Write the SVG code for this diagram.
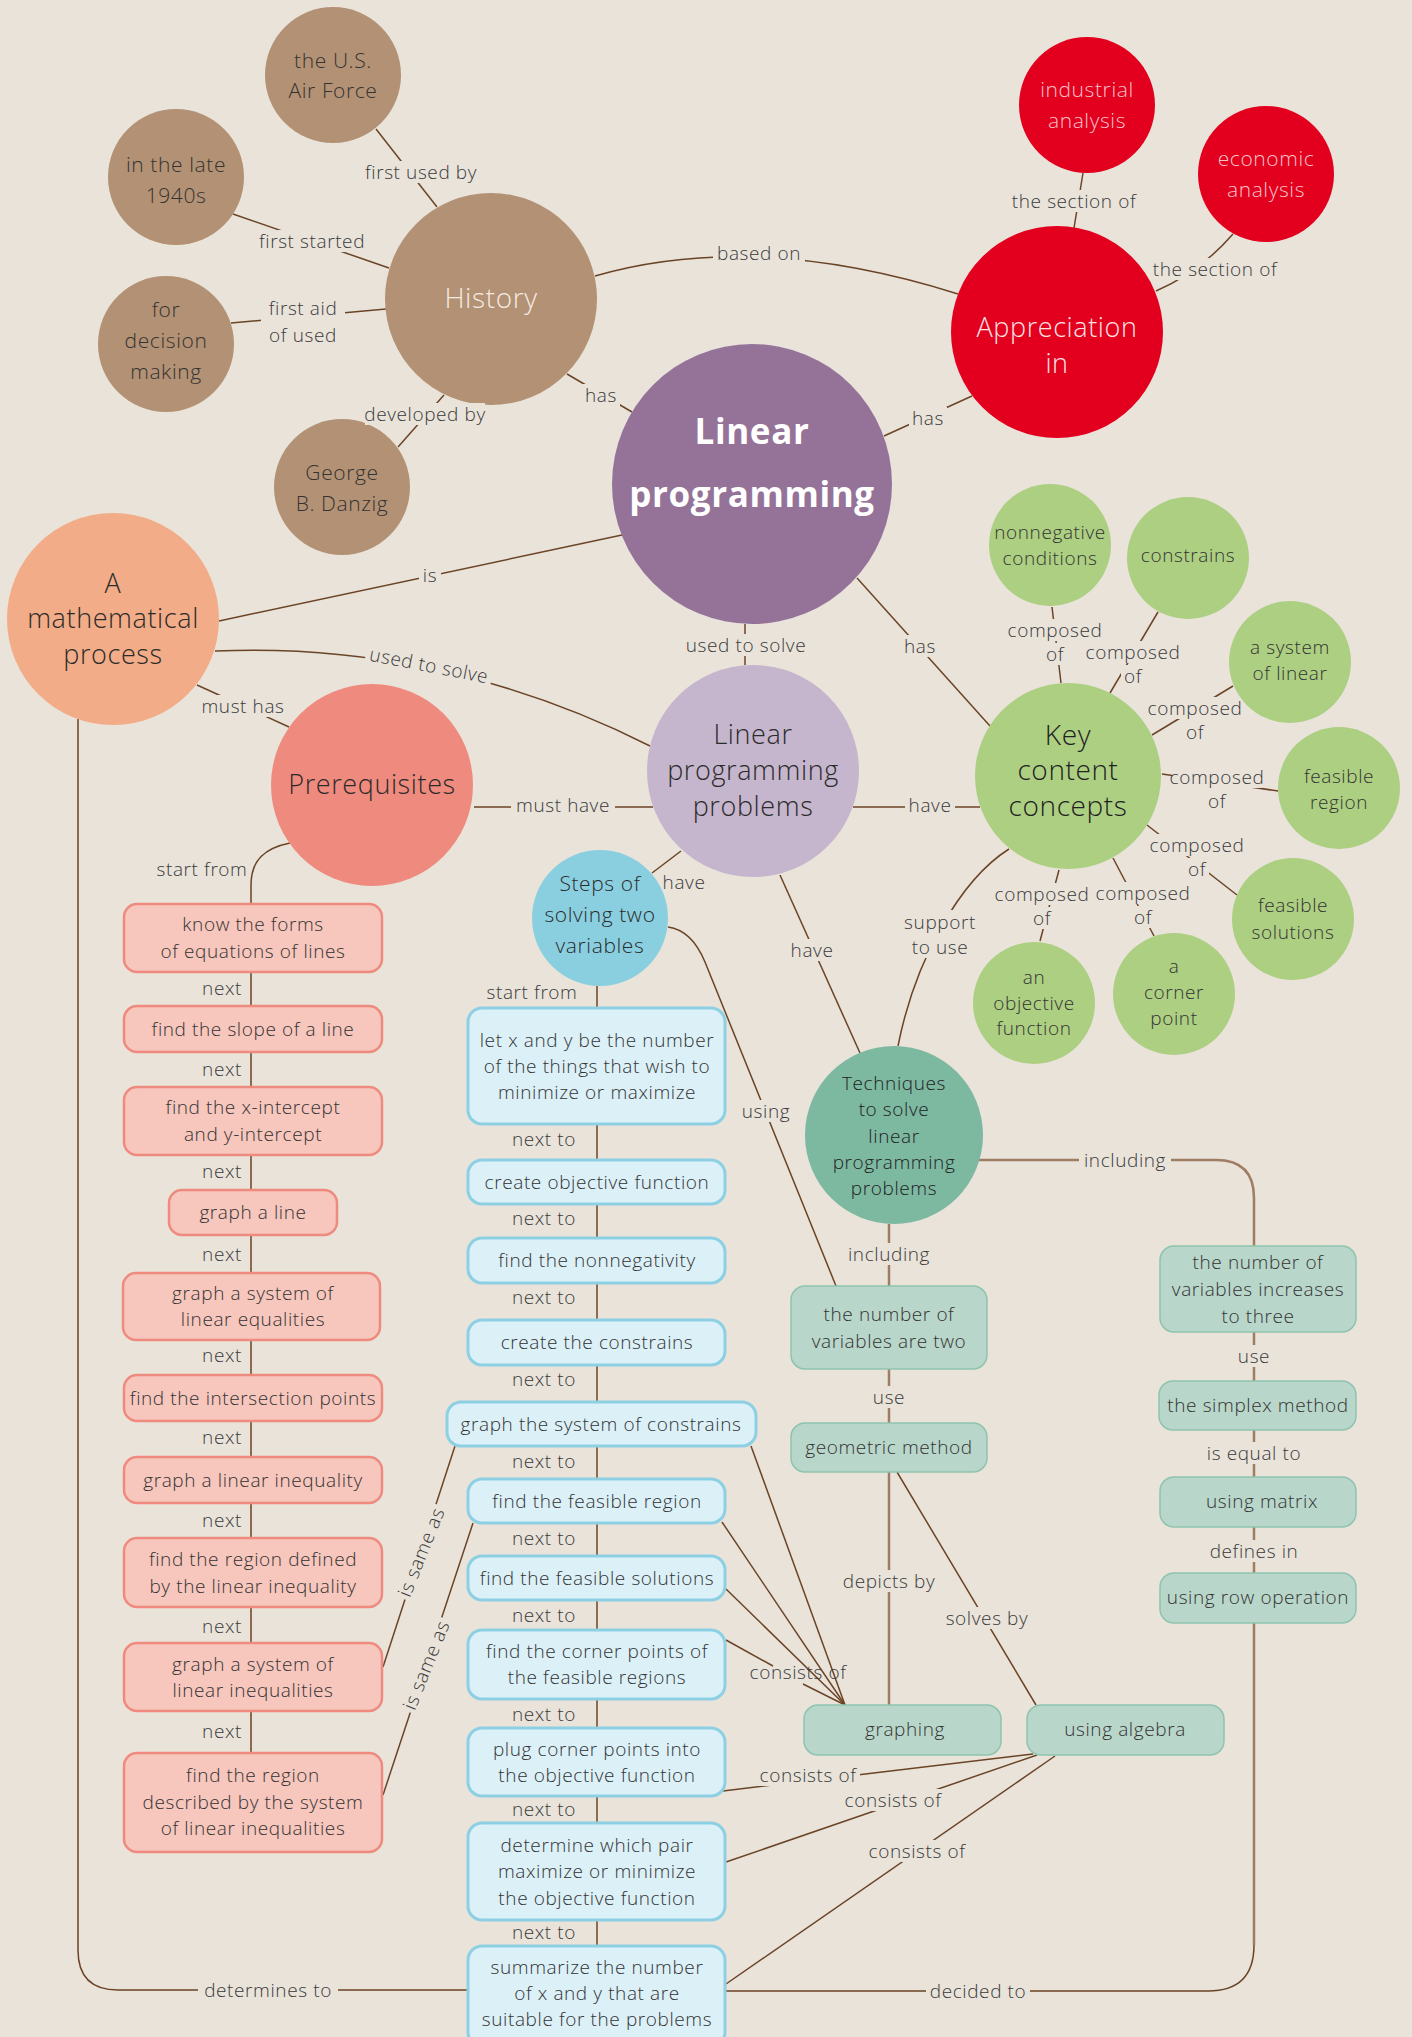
<svg xmlns="http://www.w3.org/2000/svg" width="1412" height="2037" viewBox="0 0 1412 2037">
<style>
text{font-family:"Open Sans","Liberation Sans",sans-serif;font-weight:300;text-anchor:middle;dominant-baseline:central;fill:#333;letter-spacing:0.6px}
.c{fill:none;stroke:#6b4426;stroke-width:1.5}
.c2{fill:none;stroke:#9e7d62;stroke-width:2.5}
.lb rect{fill:#e9e3da}
.lb text{font-size:19px;fill:#3a3a3a}
.brown{fill:#b39174}.red{fill:#e2001e}.purple{fill:#957399}.orange{fill:#f2ac87}.salmon{fill:#ef8a7e}.lav{fill:#c5b5cd}.sky{fill:#8acfe0}.green{fill:#adcf82}.teal{fill:#7db8a1}
.bp{fill:#f7c6bc;stroke:#ef8a7f;stroke-width:2.5}
.bb{fill:#dcf0f8;stroke:#8dd0e3;stroke-width:3}
.bt{fill:#b9d6ca;stroke:#8ec4ae;stroke-width:1.5}
.t19{font-size:19px}
.t21{font-size:21px}
.t27{font-size:27px}
</style>
<rect width="1412" height="2037" fill="#e9e3da"/>
<g id="connectors">
<path class="c" d="M376,129 L437,207"/>
<path class="c" d="M233,214 L389,268"/>
<path class="c" d="M231,323 L386,309"/>
<path class="c" d="M398,447 L444,395"/>
<path class="c" d="M567,374 L632,412"/>
<path class="c" d="M595,276 Q755,230 958,294"/>
<path class="c" d="M884,436 L972,396"/>
<path class="c" d="M1083,173 L1074,228"/>
<path class="c" d="M1233,234 Q1200,272 1156,291"/>
<path class="c" d="M219,621 L622,535"/>
<path class="c" d="M215,651 C350,645 500,670 650,746"/>
<path class="c" d="M197,685 L289,727"/>
<path class="c" d="M474,807 H653"/>
<path class="c" d="M853,807 H980"/>
<path class="c" d="M745,624 V665"/>
<path class="c" d="M857,578 L990,726"/>
<path class="c" d="M1052,607 L1061,683"/>
<path class="c" d="M1158,612 L1110,693"/>
<path class="c" d="M1233,686 L1152,735"/>
<path class="c" d="M1162,774 L1278,791"/>
<path class="c" d="M1147,825 L1237,895"/>
<path class="c" d="M1113,858 L1154,936"/>
<path class="c" d="M1059,870 L1040,941"/>
<path class="c" d="M681,851 L652,873"/>
<path class="c" d="M780,875 L860,1053"/>
<path class="c" d="M1009,849 C960,880 915,960 898,1046"/>
<path class="c" d="M668,927 C690,930 700,950 705,962 L836,1286"/>
<path class="c2" d="M889,1224 V1286"/>
<path class="c2" d="M979,1160 H1216 Q1254,1160 1254,1198 V1246"/>
<path class="c2" d="M889,1369 V1423"/>
<path class="c2" d="M889,1472 V1705"/>
<path class="c" d="M897,1472 L1036,1705"/>
<path class="c2" d="M1254,1332 V1381"/>
<path class="c2" d="M1254,1430 V1477"/>
<path class="c2" d="M1254,1527 V1573"/>
<path class="c2" d="M1254,1623 V1945"/>
<path class="c" d="M1254,1945 Q1254,1991 1208,1991 H725"/>
<path class="c" d="M290,843 C265,848 251,860 251,885 V1753"/>
<path class="c" d="M597,986 V1946"/>
<path class="c" d="M78,719 V1950 Q78,1990 118,1990 H468"/>
<path class="c" d="M383,1667 L455,1446"/>
<path class="c" d="M383,1795 L473,1523"/>
<path class="c" d="M751,1446 L845,1705"/>
<path class="c" d="M722,1522 L845,1705"/>
<path class="c" d="M726,1589 L845,1705"/>
<path class="c" d="M726,1640 L773,1666"/>
<path class="c" d="M803,1684 L845,1705"/>
<path class="c" d="M723,1791 L1033,1754"/>
<path class="c" d="M726,1862 L1037,1755"/>
<path class="c" d="M726,1984 L1055,1756"/>
</g>
<g id="n-history"><circle class="brown" cx="491" cy="299" r="106"/><text x="491" y="297" style="font-size:28px;fill:#f3eae1">History</text></g>
<g id="n-airforce"><circle class="brown" cx="333" cy="75" r="68"/><text class="t21" x="333" y="60">the U.S.</text><text class="t21" x="333" y="90">Air Force</text></g>
<g id="n-1940s"><circle class="brown" cx="176" cy="177" r="68"/><text class="t21" x="176" y="164">in the late</text><text class="t21" x="176" y="195">1940s</text></g>
<g id="n-decision"><circle class="brown" cx="166" cy="344" r="68"/><text class="t21" x="166" y="309">for</text><text class="t21" x="166" y="340">decision</text><text class="t21" x="166" y="371">making</text></g>
<g id="n-danzig"><circle class="brown" cx="342" cy="487" r="68"/><text class="t21" x="342" y="472">George</text><text class="t21" x="342" y="503">B. Danzig</text></g>
<g id="n-appreciation"><circle class="red" cx="1057" cy="332" r="106"/><text class="t27" x="1057" y="326" style="fill:#fbe3e5">Appreciation</text><text class="t27" x="1057" y="362" style="fill:#fbe3e5">in</text></g>
<g id="n-industrial"><circle class="red" cx="1087" cy="105" r="68"/><text class="t21" x="1087" y="89" style="fill:#f7c3c9">industrial</text><text class="t21" x="1087" y="120" style="fill:#f7c3c9">analysis</text></g>
<g id="n-economic"><circle class="red" cx="1266" cy="174" r="68"/><text class="t21" x="1266" y="158" style="fill:#f7c3c9">economic</text><text class="t21" x="1266" y="189" style="fill:#f7c3c9">analysis</text></g>
<g id="n-lp"><circle class="purple" cx="752" cy="484" r="140"/><text x="752" y="430" style="font-size:35px;font-weight:700;fill:#fff">Linear</text><text x="752" y="493" style="font-size:35px;font-weight:700;fill:#fff">programming</text></g>
<g id="n-math"><circle class="orange" cx="113" cy="619" r="106"/><text class="t27" x="113" y="582" style="fill:#2b2b2b">A</text><text class="t27" x="113" y="617" style="fill:#2b2b2b">mathematical</text><text class="t27" x="113" y="653" style="fill:#2b2b2b">process</text></g>
<g id="n-prereq"><circle class="salmon" cx="372" cy="785" r="101"/><text class="t27" x="372" y="783" style="fill:#2b2b2b">Prerequisites</text></g>
<g id="n-lpp"><circle class="lav" cx="753" cy="771" r="106"/><text class="t27" x="753" y="733" style="fill:#2b2b2b">Linear</text><text class="t27" x="753" y="769" style="fill:#2b2b2b">programming</text><text class="t27" x="753" y="805" style="fill:#2b2b2b">problems</text></g>
<g id="n-steps"><circle class="sky" cx="600" cy="918" r="68"/><text class="t21" x="600" y="883" style="fill:#2b2b2b">Steps of</text><text class="t21" x="600" y="914" style="fill:#2b2b2b">solving two</text><text class="t21" x="600" y="945" style="fill:#2b2b2b">variables</text></g>
<g id="n-key"><circle class="green" cx="1068" cy="776" r="93"/><text x="1068" y="734" style="font-size:28px;fill:#222">Key</text><text x="1068" y="769" style="font-size:28px;fill:#222">content</text><text x="1068" y="805" style="font-size:28px;fill:#222">concepts</text></g>
<g id="n-nonneg"><circle class="green" cx="1050" cy="545" r="61"/><text class="t19" x="1050" y="532">nonnegative</text><text class="t19" x="1050" y="558">conditions</text></g>
<g id="n-constrains"><circle class="green" cx="1188" cy="558" r="61"/><text class="t19" x="1188" y="555">constrains</text></g>
<g id="n-system"><circle class="green" cx="1290" cy="662" r="61"/><text class="t19" x="1290" y="647">a system</text><text class="t19" x="1290" y="673">of linear</text></g>
<g id="n-region"><circle class="green" cx="1339" cy="788" r="61"/><text class="t19" x="1339" y="776">feasible</text><text class="t19" x="1339" y="802">region</text></g>
<g id="n-solutions"><circle class="green" cx="1293" cy="919" r="61"/><text class="t19" x="1293" y="905">feasible</text><text class="t19" x="1293" y="932">solutions</text></g>
<g id="n-corner"><circle class="green" cx="1174" cy="994" r="61"/><text class="t19" x="1174" y="966">a</text><text class="t19" x="1174" y="992">corner</text><text class="t19" x="1174" y="1018">point</text></g>
<g id="n-objective"><circle class="green" cx="1034" cy="1003" r="61"/><text class="t19" x="1034" y="977">an</text><text class="t19" x="1034" y="1003">objective</text><text class="t19" x="1034" y="1028">function</text></g>
<g id="n-tech"><circle class="teal" cx="894" cy="1135" r="89"/><text class="t19" x="894" y="1083" style="fill:#222">Techniques</text><text class="t19" x="894" y="1109" style="fill:#222">to solve</text><text class="t19" x="894" y="1136" style="fill:#222">linear</text><text class="t19" x="894" y="1162" style="fill:#222">programming</text><text class="t19" x="894" y="1188" style="fill:#222">problems</text></g>
<g id="p1"><rect class="bp" x="124" y="904" width="258" height="68" rx="13"/><text class="t19" x="253" y="924">know the forms</text><text class="t19" x="253" y="951">of equations of lines</text></g>
<g id="p2"><rect class="bp" x="124" y="1006" width="258" height="46" rx="13"/><text class="t19" x="253" y="1029">find the slope of a line</text></g>
<g id="p3"><rect class="bp" x="124" y="1087" width="258" height="68" rx="13"/><text class="t19" x="253" y="1107">find the x-intercept</text><text class="t19" x="253" y="1134">and y-intercept</text></g>
<g id="p4"><rect class="bp" x="169" y="1190" width="168" height="45" rx="13"/><text class="t19" x="253" y="1212">graph a line</text></g>
<g id="p5"><rect class="bp" x="123" y="1273" width="257" height="67" rx="13"/><text class="t19" x="253" y="1293">graph a system of</text><text class="t19" x="253" y="1319">linear equalities</text></g>
<g id="p6"><rect class="bp" x="124" y="1375" width="258" height="46" rx="13"/><text class="t19" x="253" y="1398">find the intersection points</text></g>
<g id="p7"><rect class="bp" x="124" y="1457" width="258" height="46" rx="13"/><text class="t19" x="253" y="1480">graph a linear inequality</text></g>
<g id="p8"><rect class="bp" x="124" y="1538" width="258" height="69" rx="13"/><text class="t19" x="253" y="1559">find the region defined</text><text class="t19" x="253" y="1586">by the linear inequality</text></g>
<g id="p9"><rect class="bp" x="124" y="1643" width="258" height="68" rx="13"/><text class="t19" x="253" y="1664">graph a system of</text><text class="t19" x="253" y="1690">linear inequalities</text></g>
<g id="p10"><rect class="bp" x="124" y="1753" width="258" height="99" rx="13"/><text class="t19" x="253" y="1775">find the region</text><text class="t19" x="253" y="1802">described by the system</text><text class="t19" x="253" y="1828">of linear inequalities</text></g>
<g id="b1"><rect class="bb" x="468" y="1008" width="257" height="116" rx="14"/><text class="t19" x="597" y="1040">let x and y be the number</text><text class="t19" x="597" y="1066">of the things that wish to</text><text class="t19" x="597" y="1092">minimize or maximize</text></g>
<g id="b2"><rect class="bb" x="468" y="1160" width="257" height="44" rx="14"/><text class="t19" x="597" y="1182">create objective function</text></g>
<g id="b3"><rect class="bb" x="468" y="1238" width="257" height="45" rx="14"/><text class="t19" x="597" y="1260">find the nonnegativity</text></g>
<g id="b4"><rect class="bb" x="468" y="1320" width="257" height="45" rx="14"/><text class="t19" x="597" y="1342">create the constrains</text></g>
<g id="b5"><rect class="bb" x="447" y="1402" width="309" height="44" rx="14"/><text class="t19" x="601" y="1424">graph the system of constrains</text></g>
<g id="b6"><rect class="bb" x="468" y="1479" width="257" height="44" rx="14"/><text class="t19" x="597" y="1501">find the feasible region</text></g>
<g id="b7"><rect class="bb" x="468" y="1556" width="257" height="44" rx="14"/><text class="t19" x="597" y="1578">find the feasible solutions</text></g>
<g id="b8"><rect class="bb" x="468" y="1630" width="257" height="69" rx="14"/><text class="t19" x="597" y="1651">find the corner points of</text><text class="t19" x="597" y="1677">the feasible regions</text></g>
<g id="b9"><rect class="bb" x="468" y="1728" width="257" height="68" rx="14"/><text class="t19" x="597" y="1749">plug corner points into</text><text class="t19" x="597" y="1775">the objective function</text></g>
<g id="b10"><rect class="bb" x="468" y="1823" width="257" height="97" rx="14"/><text class="t19" x="597" y="1845">determine which pair</text><text class="t19" x="597" y="1871">maximize or minimize</text><text class="t19" x="597" y="1898">the objective function</text></g>
<g id="b11"><rect class="bb" x="468" y="1946" width="257" height="100" rx="14"/><text class="t19" x="597" y="1967">summarize the number</text><text class="t19" x="597" y="1993">of x and y that are</text><text class="t19" x="597" y="2019">suitable for the problems</text></g>
<g id="t1"><rect class="bt" x="791" y="1286" width="196" height="83" rx="14"/><text class="t19" x="889" y="1314">the number of</text><text class="t19" x="889" y="1341">variables are two</text></g>
<g id="t2"><rect class="bt" x="791" y="1423" width="196" height="49" rx="14"/><text class="t19" x="889" y="1447">geometric method</text></g>
<g id="t3"><rect class="bt" x="804" y="1705" width="197" height="50" rx="14"/><text class="t19" x="905" y="1729">graphing</text></g>
<g id="t4"><rect class="bt" x="1027" y="1705" width="197" height="50" rx="14"/><text class="t19" x="1125" y="1729">using algebra</text></g>
<g id="t5"><rect class="bt" x="1160" y="1246" width="196" height="86" rx="14"/><text class="t19" x="1258" y="1262">the number of</text><text class="t19" x="1258" y="1289">variables increases</text><text class="t19" x="1258" y="1316">to three</text></g>
<g id="t6"><rect class="bt" x="1159" y="1381" width="197" height="49" rx="14"/><text class="t19" x="1258" y="1405">the simplex method</text></g>
<g id="t7"><rect class="bt" x="1160" y="1477" width="196" height="50" rx="14"/><text class="t19" x="1262" y="1501">using matrix</text></g>
<g id="t8"><rect class="bt" x="1160" y="1573" width="196" height="50" rx="14"/><text class="t19" x="1258" y="1597">using row operation</text></g>
<g id="labels">
<g class="lb" transform="translate(421,172)"><rect x="-60" y="-11" width="120" height="22"/><text>first used by</text></g>
<g class="lb" transform="translate(312,241)"><rect x="-55" y="-11" width="110" height="22"/><text>first started</text></g>
<g class="lb" transform="translate(303,321)"><rect x="-42" y="-25" width="84" height="50"/><text y="-13">first aid</text><text y="14">of used</text></g>
<g class="lb" transform="translate(425,414)"><rect x="-60" y="-11" width="120" height="22"/><text>developed by</text></g>
<g class="lb" transform="translate(601,395)"><rect x="-19" y="-11" width="38" height="22"/><text>has</text></g>
<g class="lb" transform="translate(759,253)"><rect x="-46" y="-11" width="92" height="22"/><text>based on</text></g>
<g class="lb" transform="translate(928,418)"><rect x="-19" y="-11" width="38" height="22"/><text>has</text></g>
<g class="lb" transform="translate(1074,201)"><rect x="-65" y="-11" width="130" height="22"/><text>the section of</text></g>
<g class="lb" transform="translate(1215,269)"><rect x="-65" y="-11" width="130" height="22"/><text>the section of</text></g>
<g class="lb" transform="translate(430,575)"><rect x="-11" y="-11" width="22" height="22"/><text>is</text></g>
<g class="lb" transform="translate(429,665) rotate(11)"><rect x="-64" y="-11" width="128" height="22"/><text>used to solve</text></g>
<g class="lb" transform="translate(243,706)"><rect x="-46" y="-11" width="92" height="22"/><text>must has</text></g>
<g class="lb" transform="translate(563,805)"><rect x="-52" y="-11" width="104" height="22"/><text>must have</text></g>
<g class="lb" transform="translate(930,805)"><rect x="-25" y="-11" width="50" height="22"/><text>have</text></g>
<g class="lb" transform="translate(746,645)"><rect x="-64" y="-11" width="128" height="22"/><text>used to solve</text></g>
<g class="lb" transform="translate(920,646)"><rect x="-25" y="-11" width="50" height="22"/><text>has</text></g>
<g class="lb" transform="translate(1055,642)"><rect x="-45" y="-23" width="90" height="22"/><rect x="-12" y="1" width="24" height="22"/><text y="-12">composed</text><text y="12">of</text></g>
<g class="lb" transform="translate(1133,664)"><rect x="-45" y="-23" width="90" height="22"/><rect x="-12" y="1" width="24" height="22"/><text y="-12">composed</text><text y="12">of</text></g>
<g class="lb" transform="translate(1195,720)"><rect x="-45" y="-23" width="90" height="22"/><rect x="-12" y="1" width="24" height="22"/><text y="-12">composed</text><text y="12">of</text></g>
<g class="lb" transform="translate(1217,789)"><rect x="-45" y="-23" width="90" height="22"/><rect x="-12" y="1" width="24" height="22"/><text y="-12">composed</text><text y="12">of</text></g>
<g class="lb" transform="translate(1197,857)"><rect x="-45" y="-23" width="90" height="22"/><rect x="-12" y="1" width="24" height="22"/><text y="-12">composed</text><text y="12">of</text></g>
<g class="lb" transform="translate(1143,905)"><rect x="-45" y="-23" width="90" height="22"/><rect x="-12" y="1" width="24" height="22"/><text y="-12">composed</text><text y="12">of</text></g>
<g class="lb" transform="translate(1042,906)"><rect x="-45" y="-23" width="90" height="22"/><rect x="-12" y="1" width="24" height="22"/><text y="-12">composed</text><text y="12">of</text></g>
<g class="lb" transform="translate(684,882)"><text>have</text></g>
<g class="lb" transform="translate(812,950)"><rect x="-25" y="-11" width="50" height="22"/><text>have</text></g>
<g class="lb" transform="translate(940,934)"><rect x="-38" y="-24" width="76" height="48"/><text y="-12">support</text><text y="13">to use</text></g>
<g class="lb" transform="translate(766,1111)"><rect x="-28" y="-11" width="56" height="22"/><text>using</text></g>
<g class="lb" transform="translate(889,1254)"><rect x="-45" y="-11" width="90" height="22"/><text>including</text></g>
<g class="lb" transform="translate(1125,1160)"><rect x="-46" y="-11" width="92" height="22"/><text>including</text></g>
<g class="lb" transform="translate(889,1397)"><rect x="-19" y="-11" width="38" height="22"/><text>use</text></g>
<g class="lb" transform="translate(889,1581)"><rect x="-50" y="-11" width="100" height="22"/><text>depicts by</text></g>
<g class="lb" transform="translate(987,1618)"><rect x="-46" y="-11" width="92" height="22"/><text>solves by</text></g>
<g class="lb" transform="translate(1254,1356)"><rect x="-19" y="-11" width="38" height="22"/><text>use</text></g>
<g class="lb" transform="translate(1254,1453)"><rect x="-51" y="-11" width="102" height="22"/><text>is equal to</text></g>
<g class="lb" transform="translate(1254,1551)"><rect x="-48" y="-11" width="96" height="22"/><text>defines in</text></g>
<g class="lb" transform="translate(202,869)"><text>start from</text></g>
<g class="lb"><text x="222" y="988">next</text><text x="222" y="1069">next</text><text x="222" y="1171">next</text><text x="222" y="1254">next</text><text x="222" y="1355">next</text><text x="222" y="1437">next</text><text x="222" y="1520">next</text><text x="222" y="1626">next</text><text x="222" y="1731">next</text></g>
<g class="lb" transform="translate(532,992)"><text>start from</text></g>
<g class="lb"><text x="544" y="1139">next to</text><text x="544" y="1218">next to</text><text x="544" y="1297">next to</text><text x="544" y="1379">next to</text><text x="544" y="1461">next to</text><text x="544" y="1538">next to</text><text x="544" y="1615">next to</text><text x="544" y="1714">next to</text><text x="544" y="1809">next to</text><text x="544" y="1932">next to</text></g>
<g class="lb" transform="translate(421,1552) rotate(-68)"><rect x="-50" y="-11" width="100" height="22"/><text>is same as</text></g>
<g class="lb" transform="translate(426,1665) rotate(-68)"><rect x="-50" y="-11" width="100" height="22"/><text>is same as</text></g>
<g class="lb" transform="translate(798,1672)"><text>consists of</text></g>
<g class="lb" transform="translate(808,1775)"><rect x="-52" y="-11" width="104" height="22"/><text>consists of</text></g>
<g class="lb" transform="translate(893,1800)"><rect x="-52" y="-11" width="104" height="22"/><text>consists of</text></g>
<g class="lb" transform="translate(917,1851)"><rect x="-52" y="-11" width="104" height="22"/><text>consists of</text></g>
<g class="lb" transform="translate(268,1990)"><rect x="-70" y="-11" width="140" height="22"/><text>determines to</text></g>
<g class="lb" transform="translate(978,1991)"><rect x="-52" y="-11" width="104" height="22"/><text>decided to</text></g>
</g>
</svg>
